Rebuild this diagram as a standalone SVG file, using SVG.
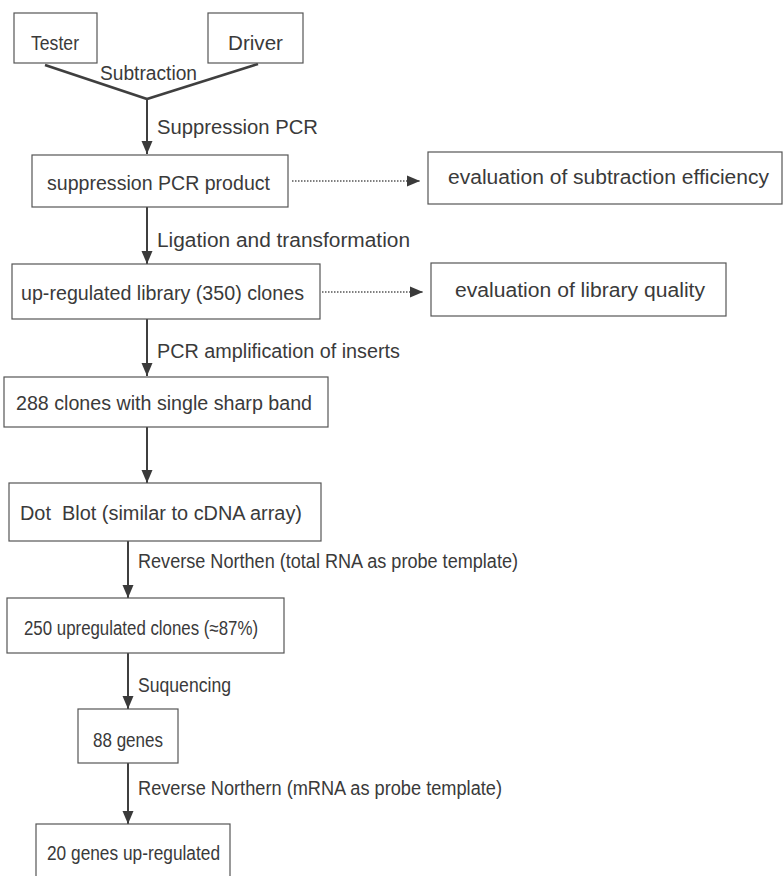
<svg xmlns="http://www.w3.org/2000/svg" width="784" height="876" viewBox="0 0 784 876">
<defs>
<marker id="ah" markerUnits="userSpaceOnUse" markerWidth="14" markerHeight="14" viewBox="0 0 14 14" refX="13" refY="7" orient="auto">
<path d="M0,1.5 L13,7 L0,12.5 Z" fill="#3a3a3a"/>
</marker>
</defs>
<style>
text{font-family:"Liberation Sans",Arial,sans-serif;font-size:20px;fill:#3a3a3a}
.box{fill:#fff;stroke:#555;stroke-width:1.2}
.ln{stroke:#3f3f3f;stroke-width:2;fill:none}
.dot{stroke:#555;stroke-width:1.5;stroke-dasharray:1.5 1.5;fill:none}
</style>
<rect width="784" height="876" fill="#fff"/>
<g id="connectors">
<line class="ln" x1="45" y1="65" x2="147" y2="99" style="stroke-width:2.6"/>
<line class="ln" x1="258" y1="64" x2="147" y2="99" style="stroke-width:2.6"/>
<line class="ln" x1="147" y1="98" x2="147" y2="154" marker-end="url(#ah)"/>
<line class="ln" x1="147" y1="207" x2="147" y2="264" marker-end="url(#ah)"/>
<line class="ln" x1="147" y1="319" x2="147" y2="376" marker-end="url(#ah)"/>
<line class="ln" x1="147" y1="427" x2="147" y2="483" marker-end="url(#ah)"/>
<line class="ln" x1="128" y1="541" x2="128" y2="598" marker-end="url(#ah)"/>
<line class="ln" x1="128" y1="653" x2="128" y2="709" marker-end="url(#ah)"/>
<line class="ln" x1="128" y1="763" x2="128" y2="824" marker-end="url(#ah)"/>
<line class="dot" x1="292" y1="181" x2="420" y2="181" marker-end="url(#ah)"/>
<line class="dot" x1="322" y1="292" x2="423" y2="292" marker-end="url(#ah)"/>
<text x="100" y="80" textLength="97" lengthAdjust="spacingAndGlyphs">Subtraction</text>
<text x="157" y="134" textLength="161" lengthAdjust="spacingAndGlyphs">Suppression PCR</text>
<text x="157" y="247" textLength="253" lengthAdjust="spacingAndGlyphs">Ligation and transformation</text>
<text x="157" y="358" textLength="243" lengthAdjust="spacingAndGlyphs">PCR amplification of inserts</text>
<text x="138" y="568" textLength="380" lengthAdjust="spacingAndGlyphs">Reverse Northen (total RNA as probe template)</text>
<text x="138" y="692" textLength="93" lengthAdjust="spacingAndGlyphs">Suquencing</text>
<text x="138" y="795" textLength="364" lengthAdjust="spacingAndGlyphs">Reverse Northern (mRNA as probe template)</text>
</g>
<g id="tester">
<rect class="box" x="14" y="13" width="83" height="50"/>
<text x="31" y="50" textLength="48" lengthAdjust="spacingAndGlyphs">Tester</text>
</g>
<g id="driver">
<rect class="box" x="208" y="13" width="95" height="50"/>
<text x="228" y="50" textLength="55" lengthAdjust="spacingAndGlyphs">Driver</text>
</g>
<g id="pcr-product">
<rect class="box" x="32" y="155" width="256" height="52"/>
<text x="47" y="190" textLength="223" lengthAdjust="spacingAndGlyphs">suppression PCR product</text>
</g>
<g id="eval-subtraction">
<rect class="box" x="428" y="152" width="354" height="52"/>
<text x="448" y="184" textLength="321" lengthAdjust="spacingAndGlyphs">evaluation of subtraction efficiency</text>
</g>
<g id="library">
<rect class="box" x="12" y="264" width="308" height="55"/>
<text x="21" y="300" textLength="283" lengthAdjust="spacingAndGlyphs">up-regulated library (350) clones</text>
</g>
<g id="eval-library">
<rect class="box" x="431" y="263" width="295" height="53"/>
<text x="455" y="297" textLength="250" lengthAdjust="spacingAndGlyphs">evaluation of library quality</text>
</g>
<g id="clones288">
<rect class="box" x="4" y="377" width="324" height="50"/>
<text x="16" y="410" textLength="296" lengthAdjust="spacingAndGlyphs">288 clones with single sharp band</text>
</g>
<g id="dotblot">
<rect class="box" x="9" y="483" width="312" height="58"/>
<text x="20" y="520" textLength="282" lengthAdjust="spacingAndGlyphs" xml:space="preserve">Dot  Blot (similar to cDNA array)</text>
</g>
<g id="clones250">
<rect class="box" x="7" y="598" width="277" height="55"/>
<text x="24" y="635" textLength="234" lengthAdjust="spacingAndGlyphs">250 upregulated clones (≈87%)</text>
</g>
<g id="genes88">
<rect class="box" x="78" y="709" width="100" height="54"/>
<text x="93" y="747" textLength="70" lengthAdjust="spacingAndGlyphs">88 genes</text>
</g>
<g id="genes20">
<rect class="box" x="36" y="824" width="194" height="60"/>
<text x="47" y="860" textLength="173" lengthAdjust="spacingAndGlyphs">20 genes up-regulated</text>
</g>
</svg>
